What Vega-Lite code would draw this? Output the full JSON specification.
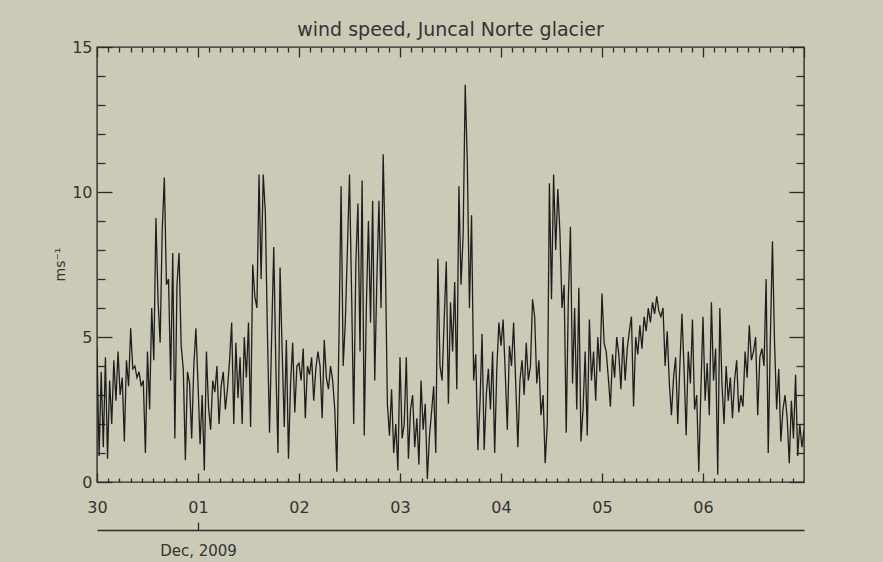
{
"$schema": "https://vega.github.io/schema/vega-lite/v6.json",
"width": 707, "height": 435,
"autosize": "none",
"padding": {"left": 97, "top": 47, "right": 79, "bottom": 80},
"background": "#cbcab7",
"title": {"text": "wind speed, Juncal Norte glacier", "font": "DejaVu Sans", "fontSize": 19, "fontWeight": "normal", "color": "#333333", "anchor": "middle", "frame": "group", "offset": -1},
"config": {
  "view": {"stroke": "#2b2b2b", "strokeWidth": 1.4},
  "axis": {"grid": false, "domain": false, "labelFont": "DejaVu Sans", "labelFontSize": 16, "labelColor": "#333333", "tickColor": "#2b2b2b", "tickWidth": 1.3, "labelFlush": false, "labelOverlap": false, "titleFont": "DejaVu Sans", "titleFontWeight": "normal", "titleColor": "#333333"}
},
"data": {"values": [
{"t":"2009-11-30T00:00Z","v":4.6},{"t":"2009-11-30T00:30Z","v":0.9},{"t":"2009-11-30T01:00Z","v":3.8},{"t":"2009-11-30T01:30Z","v":1.2},{"t":"2009-11-30T02:00Z","v":4.3},{"t":"2009-11-30T02:30Z","v":0.8},{"t":"2009-11-30T03:00Z","v":3.5},{"t":"2009-11-30T03:30Z","v":2.0},{"t":"2009-11-30T04:00Z","v":4.2},{"t":"2009-11-30T04:30Z","v":2.8},{"t":"2009-11-30T05:00Z","v":4.5},{"t":"2009-11-30T05:30Z","v":3.0},{"t":"2009-11-30T06:00Z","v":3.6},{"t":"2009-11-30T06:30Z","v":1.4},{"t":"2009-11-30T07:00Z","v":4.2},{"t":"2009-11-30T07:30Z","v":3.3},{"t":"2009-11-30T08:00Z","v":5.3},{"t":"2009-11-30T08:30Z","v":3.9},{"t":"2009-11-30T09:00Z","v":4.0},{"t":"2009-11-30T09:30Z","v":3.6},{"t":"2009-11-30T10:00Z","v":3.8},{"t":"2009-11-30T10:30Z","v":3.3},{"t":"2009-11-30T11:00Z","v":3.5},{"t":"2009-11-30T11:30Z","v":1.0},{"t":"2009-11-30T12:00Z","v":4.5},{"t":"2009-11-30T12:30Z","v":2.5},{"t":"2009-11-30T13:00Z","v":6.0},{"t":"2009-11-30T13:30Z","v":4.2},{"t":"2009-11-30T14:00Z","v":9.1},{"t":"2009-11-30T14:30Z","v":6.3},{"t":"2009-11-30T15:00Z","v":4.8},{"t":"2009-11-30T15:30Z","v":8.7},{"t":"2009-11-30T16:00Z","v":10.5},{"t":"2009-11-30T16:30Z","v":6.8},{"t":"2009-11-30T17:00Z","v":7.0},{"t":"2009-11-30T17:30Z","v":3.5},{"t":"2009-11-30T18:00Z","v":7.9},{"t":"2009-11-30T18:30Z","v":1.5},{"t":"2009-11-30T19:00Z","v":6.8},{"t":"2009-11-30T19:30Z","v":7.9},{"t":"2009-11-30T20:00Z","v":4.7},{"t":"2009-11-30T20:30Z","v":3.9},{"t":"2009-11-30T21:00Z","v":0.75},{"t":"2009-11-30T21:30Z","v":3.8},{"t":"2009-11-30T22:00Z","v":3.4},{"t":"2009-11-30T22:30Z","v":1.5},{"t":"2009-11-30T23:00Z","v":4.0},{"t":"2009-11-30T23:30Z","v":5.3},
{"t":"2009-12-01T00:00Z","v":3.4},{"t":"2009-12-01T00:30Z","v":1.3},{"t":"2009-12-01T01:00Z","v":3.0},{"t":"2009-12-01T01:30Z","v":0.4},{"t":"2009-12-01T02:00Z","v":4.5},{"t":"2009-12-01T02:30Z","v":2.6},{"t":"2009-12-01T03:00Z","v":1.8},{"t":"2009-12-01T03:30Z","v":3.5},{"t":"2009-12-01T04:00Z","v":3.1},{"t":"2009-12-01T04:30Z","v":4.0},{"t":"2009-12-01T05:00Z","v":2.0},{"t":"2009-12-01T05:30Z","v":3.3},{"t":"2009-12-01T06:00Z","v":3.8},{"t":"2009-12-01T06:30Z","v":2.5},{"t":"2009-12-01T07:00Z","v":3.2},{"t":"2009-12-01T07:30Z","v":4.2},{"t":"2009-12-01T08:00Z","v":5.5},{"t":"2009-12-01T08:30Z","v":2.0},{"t":"2009-12-01T09:00Z","v":4.8},{"t":"2009-12-01T09:30Z","v":2.9},{"t":"2009-12-01T10:00Z","v":4.3},{"t":"2009-12-01T10:30Z","v":2.0},{"t":"2009-12-01T11:00Z","v":5.0},{"t":"2009-12-01T11:30Z","v":3.6},{"t":"2009-12-01T12:00Z","v":5.5},{"t":"2009-12-01T12:30Z","v":1.9},{"t":"2009-12-01T13:00Z","v":7.5},{"t":"2009-12-01T13:30Z","v":6.4},{"t":"2009-12-01T14:00Z","v":6.0},{"t":"2009-12-01T14:30Z","v":10.6},{"t":"2009-12-01T15:00Z","v":7.0},{"t":"2009-12-01T15:30Z","v":10.6},{"t":"2009-12-01T16:00Z","v":9.3},{"t":"2009-12-01T16:30Z","v":5.1},{"t":"2009-12-01T17:00Z","v":1.7},{"t":"2009-12-01T17:30Z","v":5.0},{"t":"2009-12-01T18:00Z","v":8.1},{"t":"2009-12-01T18:30Z","v":4.0},{"t":"2009-12-01T19:00Z","v":1.0},{"t":"2009-12-01T19:30Z","v":7.4},{"t":"2009-12-01T20:00Z","v":4.5},{"t":"2009-12-01T20:30Z","v":1.9},{"t":"2009-12-01T21:00Z","v":4.9},{"t":"2009-12-01T21:30Z","v":0.8},{"t":"2009-12-01T22:00Z","v":3.4},{"t":"2009-12-01T22:30Z","v":4.8},{"t":"2009-12-01T23:00Z","v":2.4},{"t":"2009-12-01T23:30Z","v":4.0},
{"t":"2009-12-02T00:00Z","v":4.1},{"t":"2009-12-02T00:30Z","v":3.5},{"t":"2009-12-02T01:00Z","v":4.6},{"t":"2009-12-02T01:30Z","v":2.2},{"t":"2009-12-02T02:00Z","v":4.0},{"t":"2009-12-02T02:30Z","v":3.7},{"t":"2009-12-02T03:00Z","v":4.3},{"t":"2009-12-02T03:30Z","v":2.8},{"t":"2009-12-02T04:00Z","v":3.9},{"t":"2009-12-02T04:30Z","v":4.5},{"t":"2009-12-02T05:00Z","v":4.0},{"t":"2009-12-02T05:30Z","v":2.2},{"t":"2009-12-02T06:00Z","v":4.9},{"t":"2009-12-02T06:30Z","v":3.6},{"t":"2009-12-02T07:00Z","v":3.2},{"t":"2009-12-02T07:30Z","v":4.0},{"t":"2009-12-02T08:00Z","v":3.5},{"t":"2009-12-02T08:30Z","v":2.5},{"t":"2009-12-02T09:00Z","v":0.35},{"t":"2009-12-02T09:30Z","v":5.0},{"t":"2009-12-02T10:00Z","v":10.2},{"t":"2009-12-02T10:30Z","v":4.0},{"t":"2009-12-02T11:00Z","v":5.5},{"t":"2009-12-02T11:30Z","v":8.0},{"t":"2009-12-02T12:00Z","v":10.6},{"t":"2009-12-02T12:30Z","v":6.5},{"t":"2009-12-02T13:00Z","v":2.0},{"t":"2009-12-02T13:30Z","v":7.5},{"t":"2009-12-02T14:00Z","v":9.6},{"t":"2009-12-02T14:30Z","v":4.5},{"t":"2009-12-02T15:00Z","v":10.4},{"t":"2009-12-02T15:30Z","v":1.6},{"t":"2009-12-02T16:00Z","v":6.0},{"t":"2009-12-02T16:30Z","v":9.0},{"t":"2009-12-02T17:00Z","v":5.5},{"t":"2009-12-02T17:30Z","v":9.7},{"t":"2009-12-02T18:00Z","v":3.5},{"t":"2009-12-02T18:30Z","v":7.0},{"t":"2009-12-02T19:00Z","v":9.7},{"t":"2009-12-02T19:30Z","v":6.0},{"t":"2009-12-02T20:00Z","v":11.3},{"t":"2009-12-02T20:30Z","v":7.9},{"t":"2009-12-02T21:00Z","v":2.7},{"t":"2009-12-02T21:30Z","v":1.6},{"t":"2009-12-02T22:00Z","v":3.2},{"t":"2009-12-02T22:30Z","v":1.0},{"t":"2009-12-02T23:00Z","v":2.0},{"t":"2009-12-02T23:30Z","v":0.4},
{"t":"2009-12-03T00:00Z","v":4.3},{"t":"2009-12-03T00:30Z","v":1.5},{"t":"2009-12-03T01:00Z","v":2.0},{"t":"2009-12-03T01:30Z","v":4.3},{"t":"2009-12-03T02:00Z","v":0.8},{"t":"2009-12-03T02:30Z","v":2.5},{"t":"2009-12-03T03:00Z","v":3.0},{"t":"2009-12-03T03:30Z","v":1.2},{"t":"2009-12-03T04:00Z","v":2.2},{"t":"2009-12-03T04:30Z","v":0.6},{"t":"2009-12-03T05:00Z","v":3.5},{"t":"2009-12-03T05:30Z","v":1.8},{"t":"2009-12-03T06:00Z","v":2.7},{"t":"2009-12-03T06:30Z","v":0.1},{"t":"2009-12-03T07:00Z","v":1.6},{"t":"2009-12-03T07:30Z","v":2.4},{"t":"2009-12-03T08:00Z","v":3.3},{"t":"2009-12-03T08:30Z","v":1.0},{"t":"2009-12-03T09:00Z","v":7.7},{"t":"2009-12-03T09:30Z","v":4.0},{"t":"2009-12-03T10:00Z","v":3.5},{"t":"2009-12-03T10:30Z","v":5.6},{"t":"2009-12-03T11:00Z","v":7.6},{"t":"2009-12-03T11:30Z","v":2.7},{"t":"2009-12-03T12:00Z","v":6.2},{"t":"2009-12-03T12:30Z","v":4.5},{"t":"2009-12-03T13:00Z","v":6.9},{"t":"2009-12-03T13:30Z","v":3.2},{"t":"2009-12-03T14:00Z","v":10.2},{"t":"2009-12-03T14:30Z","v":6.8},{"t":"2009-12-03T15:00Z","v":8.5},{"t":"2009-12-03T15:30Z","v":13.7},{"t":"2009-12-03T16:00Z","v":11.0},{"t":"2009-12-03T16:30Z","v":6.0},{"t":"2009-12-03T17:00Z","v":9.2},{"t":"2009-12-03T17:30Z","v":3.5},{"t":"2009-12-03T18:00Z","v":4.4},{"t":"2009-12-03T18:30Z","v":1.1},{"t":"2009-12-03T19:00Z","v":2.7},{"t":"2009-12-03T19:30Z","v":5.1},{"t":"2009-12-03T20:00Z","v":1.1},{"t":"2009-12-03T20:30Z","v":3.0},{"t":"2009-12-03T21:00Z","v":3.9},{"t":"2009-12-03T21:30Z","v":2.5},{"t":"2009-12-03T22:00Z","v":4.5},{"t":"2009-12-03T22:30Z","v":1.0},{"t":"2009-12-03T23:00Z","v":3.9},{"t":"2009-12-03T23:30Z","v":5.5},
{"t":"2009-12-04T00:00Z","v":4.7},{"t":"2009-12-04T00:30Z","v":5.6},{"t":"2009-12-04T01:00Z","v":3.8},{"t":"2009-12-04T01:30Z","v":1.8},{"t":"2009-12-04T02:00Z","v":4.7},{"t":"2009-12-04T02:30Z","v":4.0},{"t":"2009-12-04T03:00Z","v":5.5},{"t":"2009-12-04T03:30Z","v":3.4},{"t":"2009-12-04T04:00Z","v":1.2},{"t":"2009-12-04T04:30Z","v":3.5},{"t":"2009-12-04T05:00Z","v":4.2},{"t":"2009-12-04T05:30Z","v":3.0},{"t":"2009-12-04T06:00Z","v":4.8},{"t":"2009-12-04T06:30Z","v":3.5},{"t":"2009-12-04T07:00Z","v":4.0},{"t":"2009-12-04T07:30Z","v":6.3},{"t":"2009-12-04T08:00Z","v":5.7},{"t":"2009-12-04T08:30Z","v":3.4},{"t":"2009-12-04T09:00Z","v":4.2},{"t":"2009-12-04T09:30Z","v":2.3},{"t":"2009-12-04T10:00Z","v":3.0},{"t":"2009-12-04T10:30Z","v":0.65},{"t":"2009-12-04T11:00Z","v":2.0},{"t":"2009-12-04T11:30Z","v":10.3},{"t":"2009-12-04T12:00Z","v":6.3},{"t":"2009-12-04T12:30Z","v":10.6},{"t":"2009-12-04T13:00Z","v":8.0},{"t":"2009-12-04T13:30Z","v":10.1},{"t":"2009-12-04T14:00Z","v":8.6},{"t":"2009-12-04T14:30Z","v":6.0},{"t":"2009-12-04T15:00Z","v":6.8},{"t":"2009-12-04T15:30Z","v":1.7},{"t":"2009-12-04T16:00Z","v":6.3},{"t":"2009-12-04T16:30Z","v":8.8},{"t":"2009-12-04T17:00Z","v":3.4},{"t":"2009-12-04T17:30Z","v":6.0},{"t":"2009-12-04T18:00Z","v":2.5},{"t":"2009-12-04T18:30Z","v":6.7},{"t":"2009-12-04T19:00Z","v":1.4},{"t":"2009-12-04T19:30Z","v":2.5},{"t":"2009-12-04T20:00Z","v":4.5},{"t":"2009-12-04T20:30Z","v":1.6},{"t":"2009-12-04T21:00Z","v":5.6},{"t":"2009-12-04T21:30Z","v":3.5},{"t":"2009-12-04T22:00Z","v":4.5},{"t":"2009-12-04T22:30Z","v":2.8},{"t":"2009-12-04T23:00Z","v":5.0},{"t":"2009-12-04T23:30Z","v":3.8},
{"t":"2009-12-05T00:00Z","v":6.5},{"t":"2009-12-05T00:30Z","v":4.8},{"t":"2009-12-05T01:00Z","v":4.5},{"t":"2009-12-05T01:30Z","v":3.6},{"t":"2009-12-05T02:00Z","v":2.6},{"t":"2009-12-05T02:30Z","v":4.4},{"t":"2009-12-05T03:00Z","v":3.6},{"t":"2009-12-05T03:30Z","v":5.0},{"t":"2009-12-05T04:00Z","v":4.4},{"t":"2009-12-05T04:30Z","v":3.2},{"t":"2009-12-05T05:00Z","v":5.0},{"t":"2009-12-05T05:30Z","v":3.5},{"t":"2009-12-05T06:00Z","v":4.6},{"t":"2009-12-05T06:30Z","v":5.2},{"t":"2009-12-05T07:00Z","v":5.7},{"t":"2009-12-05T07:30Z","v":2.6},{"t":"2009-12-05T08:00Z","v":5.0},{"t":"2009-12-05T08:30Z","v":4.4},{"t":"2009-12-05T09:00Z","v":5.4},{"t":"2009-12-05T09:30Z","v":4.6},{"t":"2009-12-05T10:00Z","v":5.7},{"t":"2009-12-05T10:30Z","v":5.2},{"t":"2009-12-05T11:00Z","v":6.0},{"t":"2009-12-05T11:30Z","v":5.5},{"t":"2009-12-05T12:00Z","v":6.2},{"t":"2009-12-05T12:30Z","v":5.8},{"t":"2009-12-05T13:00Z","v":6.4},{"t":"2009-12-05T13:30Z","v":5.9},{"t":"2009-12-05T14:00Z","v":5.7},{"t":"2009-12-05T14:30Z","v":6.0},{"t":"2009-12-05T15:00Z","v":4.0},{"t":"2009-12-05T15:30Z","v":5.2},{"t":"2009-12-05T16:00Z","v":3.4},{"t":"2009-12-05T16:30Z","v":2.3},{"t":"2009-12-05T17:00Z","v":3.6},{"t":"2009-12-05T17:30Z","v":4.3},{"t":"2009-12-05T18:00Z","v":2.0},{"t":"2009-12-05T18:30Z","v":4.0},{"t":"2009-12-05T19:00Z","v":5.8},{"t":"2009-12-05T19:30Z","v":3.9},{"t":"2009-12-05T20:00Z","v":1.6},{"t":"2009-12-05T20:30Z","v":4.5},{"t":"2009-12-05T21:00Z","v":3.4},{"t":"2009-12-05T21:30Z","v":5.6},{"t":"2009-12-05T22:00Z","v":2.5},{"t":"2009-12-05T22:30Z","v":3.0},{"t":"2009-12-05T23:00Z","v":0.35},{"t":"2009-12-05T23:30Z","v":3.2},
{"t":"2009-12-06T00:00Z","v":5.7},{"t":"2009-12-06T00:30Z","v":2.8},{"t":"2009-12-06T01:00Z","v":4.1},{"t":"2009-12-06T01:30Z","v":2.3},{"t":"2009-12-06T02:00Z","v":6.2},{"t":"2009-12-06T02:30Z","v":3.5},{"t":"2009-12-06T03:00Z","v":4.6},{"t":"2009-12-06T03:30Z","v":0.25},{"t":"2009-12-06T04:00Z","v":6.0},{"t":"2009-12-06T04:30Z","v":3.4},{"t":"2009-12-06T05:00Z","v":2.0},{"t":"2009-12-06T05:30Z","v":4.0},{"t":"2009-12-06T06:00Z","v":2.8},{"t":"2009-12-06T06:30Z","v":3.6},{"t":"2009-12-06T07:00Z","v":2.2},{"t":"2009-12-06T07:30Z","v":3.5},{"t":"2009-12-06T08:00Z","v":4.2},{"t":"2009-12-06T08:30Z","v":2.4},{"t":"2009-12-06T09:00Z","v":3.0},{"t":"2009-12-06T09:30Z","v":2.6},{"t":"2009-12-06T10:00Z","v":4.5},{"t":"2009-12-06T10:30Z","v":3.6},{"t":"2009-12-06T11:00Z","v":5.4},{"t":"2009-12-06T11:30Z","v":4.2},{"t":"2009-12-06T12:00Z","v":4.5},{"t":"2009-12-06T12:30Z","v":5.0},{"t":"2009-12-06T13:00Z","v":2.3},{"t":"2009-12-06T13:30Z","v":4.3},{"t":"2009-12-06T14:00Z","v":4.6},{"t":"2009-12-06T14:30Z","v":4.0},{"t":"2009-12-06T15:00Z","v":7.0},{"t":"2009-12-06T15:30Z","v":1.0},{"t":"2009-12-06T16:00Z","v":4.9},{"t":"2009-12-06T16:30Z","v":8.3},{"t":"2009-12-06T17:00Z","v":4.8},{"t":"2009-12-06T17:30Z","v":2.5},{"t":"2009-12-06T18:00Z","v":3.9},{"t":"2009-12-06T18:30Z","v":1.4},{"t":"2009-12-06T19:00Z","v":2.5},{"t":"2009-12-06T19:30Z","v":3.0},{"t":"2009-12-06T20:00Z","v":2.2},{"t":"2009-12-06T20:30Z","v":0.65},{"t":"2009-12-06T21:00Z","v":2.8},{"t":"2009-12-06T21:30Z","v":1.5},{"t":"2009-12-06T22:00Z","v":3.7},{"t":"2009-12-06T22:30Z","v":0.9},{"t":"2009-12-06T23:00Z","v":2.0},{"t":"2009-12-06T23:30Z","v":1.2},
{"t":"2009-12-07T00:00Z","v":1.8}
]},
"layer": [
  {"mark": {"type": "line", "color": "#1e1e1e", "strokeWidth": 1.3, "clip": true},
   "encoding": {
     "x": {"field": "t", "type": "temporal", "scale": {"type": "utc", "domain": [1259539200000, 1260144000000]},
           "axis": {"orient": "bottom", "values": [1259539200000, 1259625600000, 1259712000000, 1259798400000, 1259884800000, 1259971200000, 1260057600000], "labelExpr": "utcFormat(datum.value, '%d')", "tickSize": -9, "labelPadding": 26, "title": null}},
     "y": {"field": "v", "type": "quantitative", "scale": {"domain": [0, 15], "nice": false},
           "axis": {"orient": "left", "values": [0, 5, 10, 15], "tickSize": -15, "labelPadding": 20, "title": "ms⁻¹", "titleFontSize": 14, "titleX": -30, "titleY": 217}}
   }},
  {"mark": {"type": "point", "opacity": 0},
   "encoding": {
     "x": {"field": "t", "type": "temporal", "scale": {"type": "utc", "domain": [1259539200000, 1260144000000]},
           "axis": {"orient": "top", "values": [1259539200000, 1259625600000, 1259712000000, 1259798400000, 1259884800000, 1259971200000, 1260057600000, 1260144000000], "labels": false, "tickSize": -10, "title": null}},
     "y": {"field": "v", "type": "quantitative", "scale": {"domain": [0, 15], "nice": false},
           "axis": {"orient": "right", "values": [0, 5, 10, 15], "labels": false, "tickSize": -15, "title": null}}
   }},
  {"mark": {"type": "point", "opacity": 0},
   "encoding": {
     "x": {"field": "t", "type": "temporal", "scale": {"type": "utc", "domain": [1259539200000, 1260144000000]},
           "axis": {"orient": "bottom", "values": [1259548800000, 1259558400000, 1259568000000, 1259577600000, 1259587200000, 1259596800000, 1259606400000, 1259616000000, 1259635200000, 1259644800000, 1259654400000, 1259664000000, 1259673600000, 1259683200000, 1259692800000, 1259702400000, 1259721600000, 1259731200000, 1259740800000, 1259750400000, 1259760000000, 1259769600000, 1259779200000, 1259788800000, 1259808000000, 1259817600000, 1259827200000, 1259836800000, 1259846400000, 1259856000000, 1259865600000, 1259875200000, 1259894400000, 1259904000000, 1259913600000, 1259923200000, 1259932800000, 1259942400000, 1259952000000, 1259961600000, 1259980800000, 1259990400000, 1260000000000, 1260009600000, 1260019200000, 1260028800000, 1260038400000, 1260048000000, 1260067200000, 1260076800000, 1260086400000, 1260096000000, 1260105600000, 1260115200000, 1260124800000, 1260134400000], "labels": false, "tickSize": -4, "title": null}},
     "y": {"field": "v", "type": "quantitative", "scale": {"domain": [0, 15], "nice": false},
           "axis": {"orient": "left", "values": [1, 2, 3, 4, 6, 7, 8, 9, 11, 12, 13, 14], "labels": false, "tickSize": -8, "title": null}}
   }},
  {"mark": {"type": "point", "opacity": 0},
   "encoding": {
     "x": {"field": "t", "type": "temporal", "scale": {"type": "utc", "domain": [1259539200000, 1260144000000]},
           "axis": {"orient": "top", "values": [1259548800000, 1259558400000, 1259568000000, 1259577600000, 1259587200000, 1259596800000, 1259606400000, 1259616000000, 1259635200000, 1259644800000, 1259654400000, 1259664000000, 1259673600000, 1259683200000, 1259692800000, 1259702400000, 1259721600000, 1259731200000, 1259740800000, 1259750400000, 1259760000000, 1259769600000, 1259779200000, 1259788800000, 1259808000000, 1259817600000, 1259827200000, 1259836800000, 1259846400000, 1259856000000, 1259865600000, 1259875200000, 1259894400000, 1259904000000, 1259913600000, 1259923200000, 1259932800000, 1259942400000, 1259952000000, 1259961600000, 1259980800000, 1259990400000, 1260000000000, 1260009600000, 1260019200000, 1260028800000, 1260038400000, 1260048000000, 1260067200000, 1260076800000, 1260086400000, 1260096000000, 1260105600000, 1260115200000, 1260124800000, 1260134400000], "labels": false, "tickSize": -5, "title": null}},
     "y": {"field": "v", "type": "quantitative", "scale": {"domain": [0, 15], "nice": false},
           "axis": {"orient": "right", "values": [1, 2, 3, 4, 6, 7, 8, 9, 11, 12, 13, 14], "labels": false, "tickSize": -8, "title": null}}
   }},
  {"mark": {"type": "point", "opacity": 0},
   "encoding": {
     "x": {"field": "t", "type": "temporal", "scale": {"type": "utc", "domain": [1259539200000, 1260144000000]},
           "axis": {"orient": "bottom", "offset": 48, "values": [1259625600000], "labelExpr": "'Dec, 2009'", "labelFontSize": 15, "domain": true, "domainColor": "#2b2b2b", "domainWidth": 1.3, "tickSize": -8, "labelPadding": 21, "title": null}},
     "y": {"field": "v", "type": "quantitative", "scale": {"domain": [0, 15], "nice": false}, "axis": null}
   }}
],
"resolve": {"axis": {"x": "independent", "y": "independent"}}
}
